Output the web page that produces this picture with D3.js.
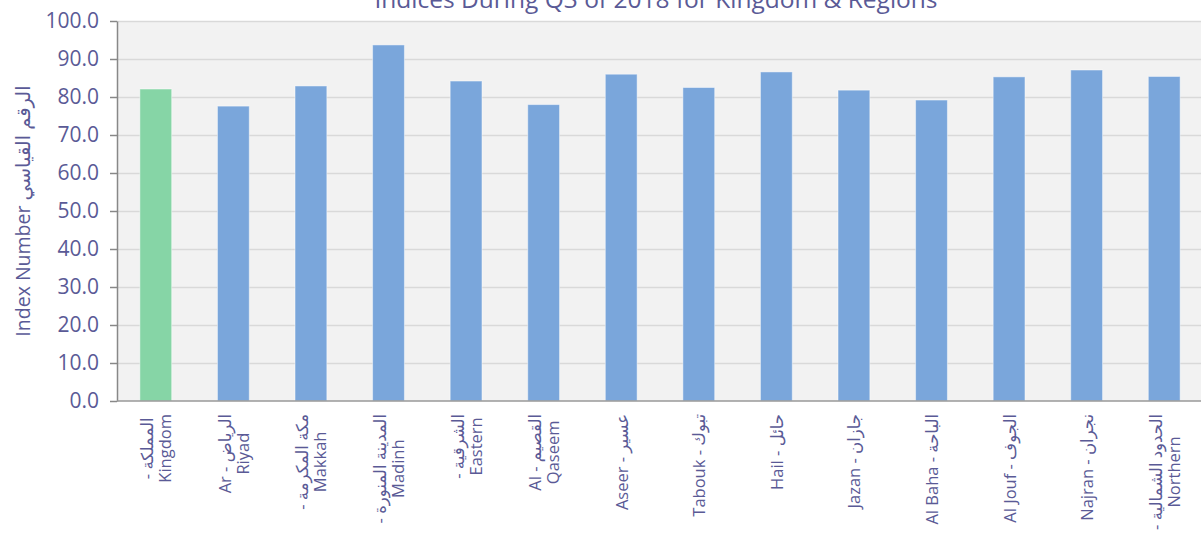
<!DOCTYPE html>
<html>
<head>
<meta charset="utf-8">
<script src="https://cdn.jsdelivr.net/npm/d3@7"></script>
<style>
  body { margin: 0; background: #fff; }
  svg text { font-family: "Open Sans", "DejaVu Sans", sans-serif; fill: #5a5a96; }
</style>
</head>
<body>
<script>
// regions, each label split in the lines used on the chart
var regions = ["Kingdom", "Riyad", "Makkah", "Madinh", "Eastern", "Qaseem", "Aseer",
  "Tabouk", "Hail", "Jazan", "Al Baha", "Al Jouf", "Najran", "Northern"];
var regionLabels = [
  ["- المملكة", "Kingdom"],
  ["Ar - الرياض", "Riyad"],
  ["- مكة المكرمة", "Makkah"],
  ["- المدينة المنورة", "Madinh"],
  ["- الشرقية", "Eastern"],
  ["Al - القصيم", "Qaseem"],
  ["Aseer - عسير"],
  ["Tabouk - تبوك"],
  ["Hail - حائل"],
  ["Jazan - جازان"],
  ["Al Baha - الباحة"],
  ["Al Jouf - الجوف"],
  ["Najran - نجران"],
  ["- الحدود الشمالية", "Northern"]
];
var indexValues = [82.1, 77.6, 82.9, 93.7, 84.2, 78.0, 86.0, 82.5, 86.6, 81.8, 79.2, 85.3, 87.1, 85.4];
var yTicks = [0, 10, 20, 30, 40, 50, 60, 70, 80, 90, 100];
var chartTitle = "Indices During Q3 of 2018 for Kingdom & Regions";
var yTitle = "Index Number   الرقم القياسي";

const W = 1201, H = 539;
const margin = {top: 21, right: -2, bottom: 138, left: 117};
var width = W - margin.left - margin.right;
var height = H - margin.top - margin.bottom;

var svg = d3.select("body").append("svg")
  .attr("width", W)
  .attr("height", H);

var g = svg.append("g")
  .attr("transform", "translate(" + margin.left + "," + margin.top + ")");

var x = d3.scaleBand()
  .domain(regions)
  .range([0, width])
  .paddingInner(0.59)
  .paddingOuter(0.295);

var y = d3.scaleLinear()
  .domain([0, 100])
  .range([height, 0]);

// plot background
g.append("rect")
  .attr("width", width)
  .attr("height", height)
  .attr("fill", "#f2f2f2");

// gridlines
g.selectAll(".grid")
  .data(yTicks.slice(1)).enter()
  .append("line")
  .attr("class", "grid")
  .attr("x1", 0).attr("x2", width)
  .attr("y1", function(d) { return y(d) + 0.5; })
  .attr("y2", function(d) { return y(d) + 0.5; })
  .attr("stroke", "#d9d9d9")
  .attr("stroke-width", 1.5);

// bars
g.selectAll(".bar")
  .data(indexValues).enter()
  .append("rect")
  .attr("class", "bar")
  .attr("x", function(d, i) { return x(regions[i]); })
  .attr("y", function(d) { return y(d); })
  .attr("width", x.bandwidth())
  .attr("height", function(d) { return y(0) - y(d); })
  .attr("fill", function(d, i) { return i == 0 ? "#86d5a6" : "#7aa6db"; })
  .attr("stroke", "rgba(255,255,255,0.45)")
  .attr("stroke-width", 1);

// y axis
var yAxis = g.append("g")
  .call(d3.axisLeft(y).tickValues(yTicks).tickFormat(d3.format(".1f")).tickSize(7).tickSizeOuter(0));
yAxis.select(".domain").attr("stroke", "#888").attr("stroke-width", 1.5);
yAxis.selectAll(".tick line").attr("stroke", "#888").attr("stroke-width", 1.5);
yAxis.selectAll(".tick text")
  .attr("x", -18)
  .style("font-size", "21px");

// x axis line
g.append("line")
  .attr("x1", 0).attr("x2", width)
  .attr("y1", height).attr("y2", height)
  .attr("stroke", "#999")
  .attr("stroke-width", 1.5);

// category labels, rotated, lines centred in a block hanging below the axis
var lineGap = 18;
var labelGroups = g.selectAll(".xlabel")
  .data(regionLabels).enter()
  .append("g")
  .attr("class", "xlabel");

labelGroups.each(function(lines, i) {
  var grp = d3.select(this);
  var texts = grp.selectAll("text")
    .data(lines).enter()
    .append("text")
    .style("font-size", "16.5px")
    .attr("text-anchor", "middle")
    .attr("dominant-baseline", "central")
    .text(function(d) { return d; });
  var maxLen = 0;
  texts.each(function() { maxLen = Math.max(maxLen, this.getComputedTextLength()); });
  var cx = x(regions[i]) + x.bandwidth() / 2;
  var off = (lines.length - 1) * lineGap / 2;
  texts.attr("transform", function(d, j) {
    return "translate(" + (cx - off + j * lineGap) + "," + (height + 13 + maxLen / 2) + ")rotate(-90)";
  });
});

// y axis title
svg.append("text")
  .attr("transform", "translate(22," + (margin.top + height / 2) + ")rotate(-90)")
  .attr("text-anchor", "middle")
  .attr("dominant-baseline", "central")
  .style("font-size", "19.5px")
  .text(yTitle);

// chart title, top clipped as in the source
svg.append("text")
  .attr("x", 656)
  .attr("y", 8)
  .attr("text-anchor", "middle")
  .style("font-size", "24.5px")
  .text(chartTitle);
</script>
</body>
</html>
